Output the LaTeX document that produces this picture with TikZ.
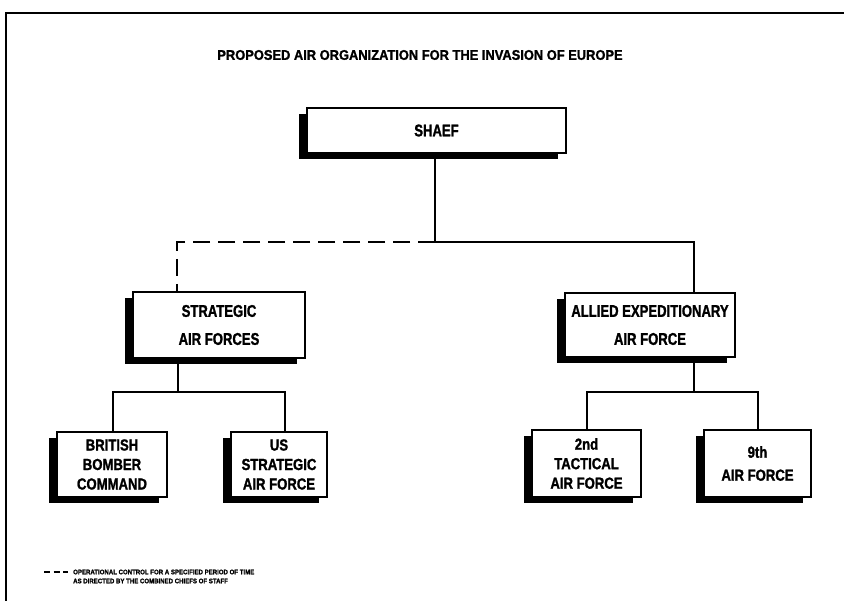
\documentclass[tikz,border=0pt]{standalone}
\usepackage{fontspec}
\setmainfont{Liberation Sans}
\newfontfamily\boxf[FakeStretch=0.77,FakeBold=1.3]{Liberation Sans}
\newfontfamily\lowf[FakeStretch=0.82,FakeBold=1.3]{Liberation Sans}
\newfontfamily\titlef[FakeStretch=0.92,FakeBold=1.3]{Liberation Sans}
\usetikzlibrary{shadows}
\begin{document}
\begin{tikzpicture}[x=1pt,y=-1pt,
  orgbox/.style={draw, line width=1.6pt, fill=white, inner sep=0pt, align=center,
    general shadow={shadow xshift=-8pt, shadow yshift=-6pt, fill=black}},
  bigtext/.style={font=\boxf\bfseries\fontsize{17}{28}\selectfont},
  smalltext/.style={font=\lowf\bfseries\fontsize{16}{19.5}\selectfont},
  conn/.style={line width=1.6pt},
  dashconn/.style={line width=2pt, dash pattern=on 17pt off 8pt},
  frameline/.style={line width=2pt}
]
\useasboundingbox (0,0) rectangle (844,601);
\draw[frameline] (6,601) -- (6,13) -- (844,13);

\node[font=\titlef\bfseries\fontsize{14}{16}\selectfont] (title) at (420,55)
  {PROPOSED AIR ORGANIZATION FOR THE INVASION OF EUROPE};

\coordinate (top) at (435,242);
\coordinate (dl) at (177,242);
\coordinate (dr) at (694,242);
\coordinate (ll) at (178,392);
\coordinate (lla) at (113,392);
\coordinate (llb) at (285,392);
\coordinate (rr) at (694,392);
\coordinate (rra) at (587,392);
\coordinate (rrb) at (758,392);

\node[orgbox, bigtext, minimum width=259pt, minimum height=45pt] (shaef) at (436.5,130.5) {SHAEF};
\node[orgbox, bigtext, minimum width=172pt, minimum height=66pt] (saf) at (219,325) {STRATEGIC\\AIR FORCES};
\node[orgbox, bigtext, minimum width=170pt, minimum height=64pt] (aeaf) at (650,325) {ALLIED EXPEDITIONARY\\AIR FORCE};
\node[orgbox, smalltext, minimum width=110pt, minimum height=65pt] (bbc) at (112,464.5) {BRITISH\\BOMBER\\COMMAND};
\node[orgbox, smalltext, minimum width=96pt, minimum height=65pt] (us) at (279,464.5) {US\\STRATEGIC\\AIR FORCE};
\node[orgbox, smalltext, minimum width=109pt, minimum height=67pt] (tac) at (586.5,463.5) {2nd\\TACTICAL\\AIR FORCE};
\node[orgbox, smalltext, minimum width=107pt, minimum height=67pt] (ninth) at (757.5,463.5) {9th\\[3.5pt]AIR FORCE};

\draw[conn] (shaef.south -| top) -- (top) -- (dr) -- (aeaf.north -| dr);
\draw[dashconn] (top) -- (dl) -- (saf.north -| dl);
\draw[conn] (saf.south -| ll) -- (ll);
\draw[conn] (bbc.north -| lla) -- (lla) -- (llb) -- (us.north -| llb);
\draw[conn] (aeaf.south -| rr) -- (rr);
\draw[conn] (tac.north -| rra) -- (rra) -- (rrb) -- (ninth.north -| rrb);

\coordinate (lg1) at (44,572);
\coordinate (lg2) at (68,572);
\draw[line width=1.5pt, dash pattern=on 6pt off 3.5pt] (lg1) -- (lg2);
\node[anchor=west, align=left, inner sep=0pt, font=\titlef\bfseries\fontsize{6.6}{9}\selectfont] (legend) at (73,576.5)
  {OPERATIONAL CONTROL FOR A SPECIFIED PERIOD OF TIME\\AS DIRECTED BY THE COMBINED CHIEFS OF STAFF};
\end{tikzpicture}
\end{document}
